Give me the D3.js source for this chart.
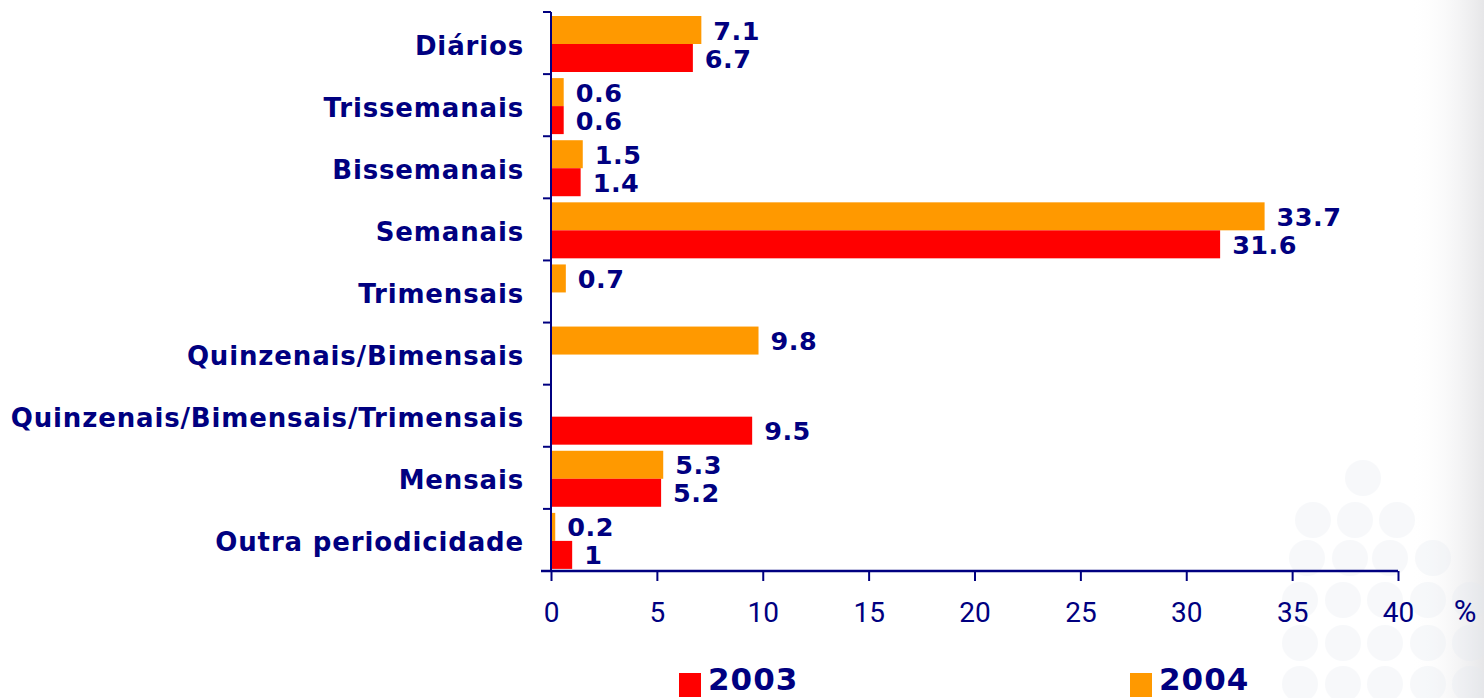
<!DOCTYPE html>
<html><head><meta charset="utf-8">
<script src="https://cdn.jsdelivr.net/npm/d3@7"></script>
<style>html,body{margin:0;padding:0;background:#fff;}svg{display:block;}</style>
</head><body>
<svg id="chart" width="1484" height="698"></svg>
<script>
const categories = ["Diários","Trissemanais","Bissemanais","Semanais","Trimensais","Quinzenais/Bimensais","Quinzenais/Bimensais/Trimensais","Mensais","Outra periodicidade"];
const series = ["2004","2003"];
const values2003 = [6.7, 0.6, 1.4, 31.6, null, null, 9.5, 5.2, 1];
const values2004 = [7.1, 0.6, 1.5, 33.7, 0.7, 9.8, null, 5.3, 0.2];
const xTicks = [0,5,10,15,20,25,30,35,40];
const legendOrder = ["2003","2004"];

const navy = "#000080";
const colors = {"2003":"#ff0000","2004":"#ff9900"};
const svg = d3.select("#chart");

// subtle background decoration
const defs = svg.append("defs");
const g1 = defs.append("linearGradient").attr("id","rg").attr("x1","0").attr("x2","1");
g1.append("stop").attr("offset","0").attr("stop-color","#ffffff").attr("stop-opacity",0);
g1.append("stop").attr("offset","1").attr("stop-color","#e6e6e8").attr("stop-opacity",1);
svg.append("rect").attr("x",1410).attr("y",0).attr("width",74).attr("height",698).attr("fill","url(#rg)");
const dots = [[1363,478],[1313,520],[1355,520],[1397,520],[1307,558],[1350,558],[1390,558],[1433,558],
  [1300,600],[1343,600],[1385,600],[1428,600],[1470,600],[1300,643],[1343,643],[1385,643],[1428,643],[1470,643],
  [1300,684],[1343,684],[1385,684],[1428,684],[1470,684]];
svg.append("g").attr("fill","#e4e9f0").attr("opacity",0.28).selectAll("circle").data(dots).join("circle")
  .attr("cx",d=>d[0]).attr("cy",d=>d[1]).attr("r",18);

const x = d3.scaleLinear().domain([0,40]).range([551,1398]);
const y = d3.scaleBand().domain(categories).range([12,571]);
const ySub = d3.scaleBand().domain(series).range([4,60]);

const rows = categories.map((c,i)=>({cat:c, "2003":values2003[i], "2004":values2004[i]}));
const barData = [];
rows.forEach(r=>series.forEach(s=>{ if(r[s]!=null) barData.push({cat:r.cat, s, v:r[s]}); }));

svg.append("g").selectAll("rect").data(barData).join("rect")
  .attr("x", x(0)).attr("y", d=>y(d.cat)+ySub(d.s))
  .attr("width", d=>x(d.v)-x(0)).attr("height", ySub.bandwidth())
  .attr("fill", d=>colors[d.s]);

svg.append("g").selectAll("text").data(barData).join("text")
  .attr("x", d=>x(d.v)+12).attr("y", d=>y(d.cat)+ySub(d.s)+ySub.bandwidth()/2+9.5)
  .attr("font-family","DejaVu Sans").attr("font-weight","bold").attr("font-size",25.5)
  .attr("letter-spacing",0.5)
  .attr("fill", navy).text(d=>d.v);

// category axis
const yAxis = svg.append("g");
yAxis.append("line").attr("x1",551).attr("x2",551).attr("y1",12).attr("y2",571).attr("stroke",navy).attr("stroke-width",2);
const bounds = categories.map(c=>y(c)).concat([y.range()[1]]);
yAxis.selectAll("line.t").data(bounds).join("line").attr("class","t")
  .attr("x1",543).attr("x2",551).attr("y1",d=>d).attr("y2",d=>d).attr("stroke",navy).attr("stroke-width",2);
yAxis.selectAll("text").data(categories).join("text")
  .attr("x",524).attr("y",d=>y(d)+y.bandwidth()/2+11.5).attr("text-anchor","end")
  .attr("font-family","DejaVu Sans").attr("font-weight","bold").attr("font-size",26)
  .attr("letter-spacing",0.85)
  .attr("fill",navy).text(d=>d);

// value axis
const xAxis = svg.append("g").attr("transform","translate(0,571)")
  .call(d3.axisBottom(x).tickValues(xTicks).tickSize(10).tickSizeOuter(0).tickPadding(14));
xAxis.select(".domain").attr("stroke",navy).attr("stroke-width",2.5).attr("d","M541,0H1398");
xAxis.selectAll(".tick line").attr("stroke",navy).attr("stroke-width",2);
xAxis.selectAll(".tick text").attr("fill",navy).attr("font-family","Roboto").attr("font-size",28).attr("dy","0.95em");
svg.append("text").attr("x",1465).attr("y",622).attr("text-anchor","middle")
  .attr("font-family","Roboto").attr("font-size",31).attr("fill",navy).text("%");

// legend
const legX = {"2003":679,"2004":1130};
const leg = svg.append("g").selectAll("g").data(legendOrder).join("g");
leg.append("rect").attr("x",d=>legX[d]).attr("y",673).attr("width",22).attr("height",24).attr("fill",d=>colors[d]);
leg.append("text").attr("x",d=>legX[d]+29).attr("y",690)
  .attr("font-family","DejaVu Sans").attr("font-weight","bold").attr("font-size",31)
  .attr("letter-spacing",1)
  .attr("fill",navy).text(d=>d);
</script>
</body></html>
